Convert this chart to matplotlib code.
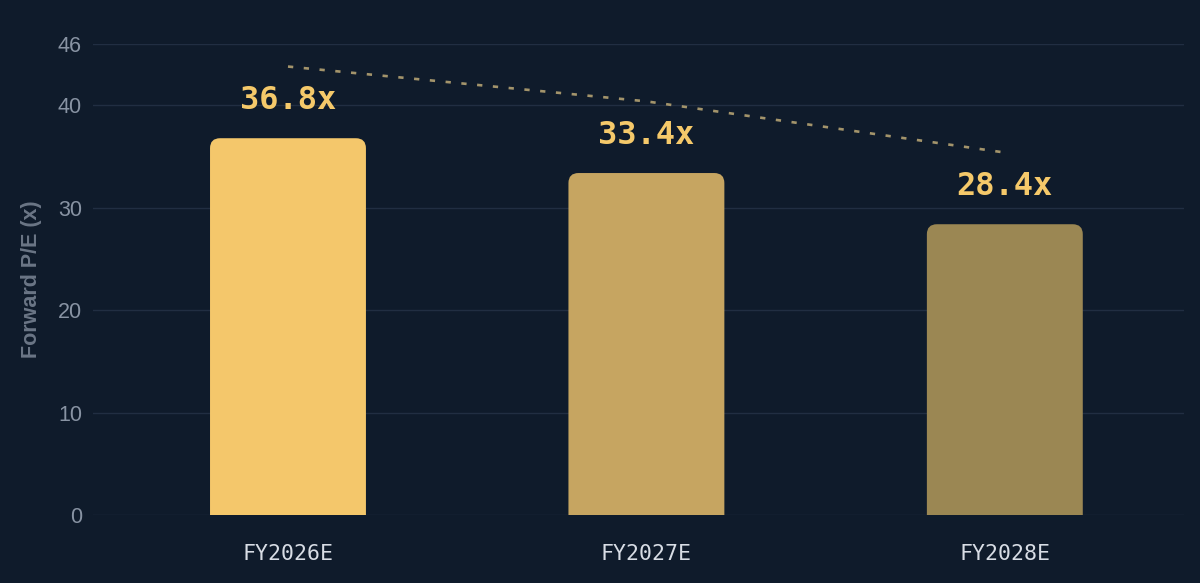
import numpy as np
import matplotlib.pyplot as plt
from matplotlib.path import Path
from matplotlib.patches import PathPatch

years = ['FY2026E', 'FY2027E', 'FY2028E']
pe = [36.8, 33.4, 28.4]
trend = [43.8, 40.4, 35.4]
bar_colors = ['#f4c76b', '#c6a561', '#9b8753']

bg = '#0f1b2b'
fig = plt.figure(figsize=(12, 5.83), dpi=100, facecolor=bg)
ax = fig.add_axes([0.0775, 0.1166, 0.9092, 0.8079], facecolor=bg)

x = np.arange(len(years))
ax.set_xlim(-0.544, 2.5)
ax.set_ylim(0, 46)

bars = ax.bar(x, pe, width=0.435, color=bar_colors)
fig.canvas.draw()

# swap the plain rectangles for ones with rounded top corners
px_x = ax.transData.transform((1, 0))[0] - ax.transData.transform((0, 0))[0]
px_y = ax.transData.transform((0, 1))[1] - ax.transData.transform((0, 0))[1]
rx = 10 / px_x
ry = 10 / px_y
for b, c in zip(bars, bar_colors):
    x0, w, h = b.get_x(), b.get_width(), b.get_height()
    x1 = x0 + w
    verts = [(x0, 0), (x1, 0), (x1, h - ry), (x1, h), (x1 - rx, h),
             (x0 + rx, h), (x0, h), (x0, h - ry), (x0, 0)]
    codes = [Path.MOVETO, Path.LINETO, Path.LINETO, Path.CURVE3, Path.CURVE3,
             Path.LINETO, Path.CURVE3, Path.CURVE3, Path.CLOSEPOLY]
    ax.add_patch(PathPatch(Path(verts, codes), facecolor=c, edgecolor='none', zorder=3))
    b.remove()

ax.plot(x, trend, color='#a3946b', lw=1.9, linestyle=(0, (2, 4)), zorder=4)

for xi, v in zip(x, pe):
    ax.annotate(f'{v}x', (xi, v), xytext=(0, 16), textcoords='offset points',
                ha='center', va='bottom', color='#f5c96a', fontsize=23,
                fontweight='bold', family='DejaVu Sans Mono', zorder=5)

ax.set_yticks([0, 10, 20, 30, 40, 46])
ax.set_xticks(x)
ax.set_xticklabels(years, family='DejaVu Sans Mono', fontsize=15.5, color='#d8dde5')
for t in ax.get_yticklabels():
    t.set_family('Liberation Sans')
    t.set_fontsize(15.5)
    t.set_color('#8893a3')
ax.tick_params(axis='x', length=0, pad=21)
ax.tick_params(axis='y', length=0, pad=8)
ax.grid(axis='y', color='#212e42', lw=1)
ax.set_axisbelow(True)
for s in ax.spines.values():
    s.set_visible(False)

ax.set_ylabel('Forward P/E (x)', family='Liberation Sans', fontsize=15.5,
              fontweight='bold', color='#6b7686', labelpad=11)

fig.savefig('out.png', dpi=100, facecolor=bg)
